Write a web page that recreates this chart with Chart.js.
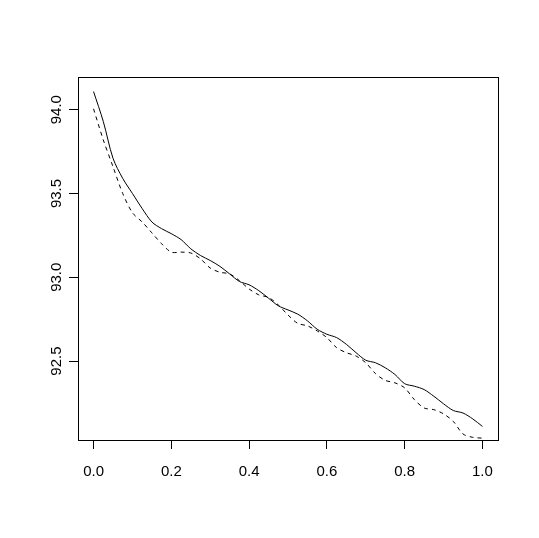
<!DOCTYPE html>
<html>
<head>
<meta charset="utf-8">
<script src="https://cdn.jsdelivr.net/npm/chart.js"></script>
<style>
  html, body { margin: 0; padding: 0; background: #fff; }
  #wrap { width: 539px; height: 538px; }
</style>
</head>
<body>
<div id="wrap"><canvas id="curveChart" width="539" height="538"></canvas></div>
<script>
    // values
    const xs = [0, 0.025, 0.05, 0.075, 0.1, 0.125, 0.15, 0.175, 0.2, 0.225, 0.25, 0.275, 0.3, 0.325,
        0.35, 0.375, 0.4, 0.425, 0.45, 0.475, 0.5, 0.525, 0.55, 0.575, 0.6, 0.625, 0.65, 0.675,
        0.7, 0.725, 0.75, 0.775, 0.8, 0.825, 0.85, 0.875, 0.9, 0.925, 0.95, 0.975, 1.0];
    const solidVals = [94.108, 93.93, 93.71, 93.59, 93.50, 93.41, 93.33, 93.29, 93.26, 93.225, 93.17,
        93.13, 93.10, 93.065, 93.02, 92.975, 92.955, 92.92, 92.875, 92.83, 92.805, 92.78, 92.74,
        92.69, 92.66, 92.64, 92.60, 92.55, 92.505, 92.49, 92.46, 92.42, 92.365, 92.35, 92.33,
        92.29, 92.245, 92.205, 92.19, 92.155, 92.11];
    const dashedVals = [94.005, 93.82, 93.66, 93.50, 93.385, 93.33, 93.265, 93.20, 93.15, 93.15, 93.145,
        93.11, 93.055, 93.03, 93.02, 92.98, 92.93, 92.895, 92.88, 92.835, 92.775, 92.725, 92.71,
        92.68, 92.64, 92.58, 92.55, 92.53, 92.49, 92.425, 92.385, 92.37, 92.34, 92.27, 92.22,
        92.21, 92.185, 92.14, 92.065, 92.045, 92.04];
    const xTicks = [0, 0.2, 0.4, 0.6, 0.8, 1.0];
    const yTicks = [92.5, 93.0, 93.5, 94.0];

    const FONT = '15px "Liberation Sans", Arial, sans-serif';

    // box around the plot region plus R-style tick labels
    const basePlot = {
        id: 'basePlot',
        afterDraw(chart) {
            const ctx = chart.ctx;
            const a = chart.chartArea;
            const xs_ = chart.scales.x, ys_ = chart.scales.y;
            ctx.save();
            ctx.strokeStyle = '#000';
            ctx.lineWidth = 1;
            ctx.strokeRect(Math.round(a.left) + 0.5, Math.round(a.top) + 0.5,
                Math.round(a.right - a.left), Math.round(a.bottom - a.top));
            ctx.fillStyle = '#000';
            ctx.font = FONT;
            ctx.textAlign = 'center';
            ctx.textBaseline = 'middle';
            xTicks.forEach(v => {
                ctx.fillText(v.toFixed(1), xs_.getPixelForValue(v), 472);
            });
            yTicks.forEach(v => {
                ctx.save();
                ctx.translate(57, ys_.getPixelForValue(v));
                ctx.rotate(-Math.PI / 2);
                ctx.fillText(v.toFixed(1), 0, 0);
                ctx.restore();
            });
            ctx.restore();
        }
    };

    const ctx = document.getElementById('curveChart').getContext('2d');
    new Chart(ctx, {
        type: 'line',
        data: {
            labels: xs,
            datasets: [{
                data: xs.map((x, i) => ({ x: x, y: solidVals[i] })),
                borderColor: '#000',
                borderWidth: 1,
                pointRadius: 0,
                tension: 0.3,
                fill: false
            }, {
                data: xs.map((x, i) => ({ x: x, y: dashedVals[i] })),
                borderColor: '#000',
                borderWidth: 1,
                borderDash: [4, 4],
                pointRadius: 0,
                tension: 0.3,
                fill: false
            }]
        },
        options: {
            responsive: false,
            animation: false,
            events: [],
            layout: { padding: { top: 77, right: 41, left: 0, bottom: 0 } },
            plugins: { legend: { display: false }, tooltip: { enabled: false } },
            scales: {
                x: {
                    type: 'linear',
                    min: -0.04,
                    max: 1.04,
                    afterBuildTicks: s => { s.ticks = xTicks.map(v => ({ value: v })); },
                    afterFit: s => { s.height = 98; },
                    ticks: { display: false },
                    grid: { drawOnChartArea: false, drawTicks: true, tickLength: 9, color: '#000', lineWidth: 1 },
                    border: { display: false }
                },
                y: {
                    type: 'linear',
                    min: 92.029,
                    max: 94.195,
                    afterBuildTicks: s => { s.ticks = yTicks.map(v => ({ value: v })); },
                    afterFit: s => { s.width = 78; },
                    ticks: { display: false },
                    grid: { drawOnChartArea: false, drawTicks: true, tickLength: 9, color: '#000', lineWidth: 1 },
                    border: { display: false }
                }
            }
        },
        plugins: [basePlot]
    });
</script>
</body>
</html>
